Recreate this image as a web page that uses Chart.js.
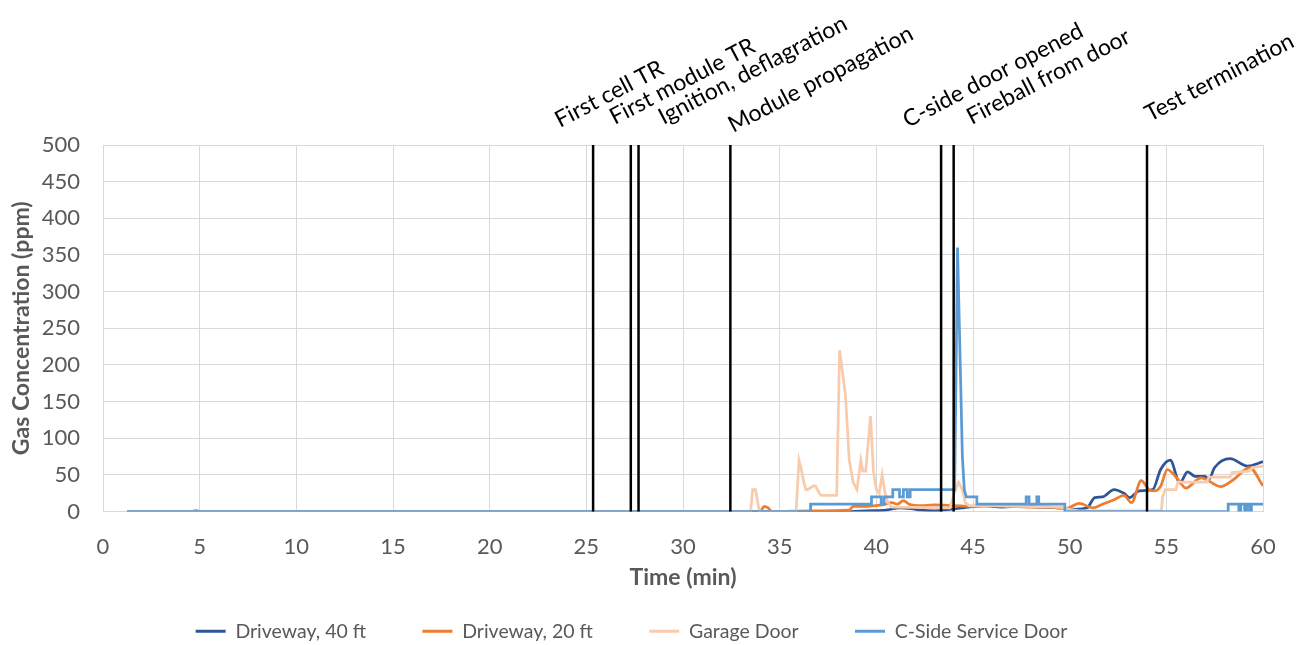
<!DOCTYPE html>
<html>
<head>
<meta charset="utf-8">
<script src="https://cdn.jsdelivr.net/npm/chart.js@4.4.1/dist/chart.umd.min.js"></script>
<style>
  html, body { margin: 0; padding: 0; background: #fff; }
</style>
</head>
<body>
<canvas id="myChart" width="1315" height="645"></canvas>
<script>
// event markers (min)
let eventTimes = [25.35, 27.3, 27.7, 32.45, 43.35, 44.0, 54.0]
let eventNames = ["First cell TR", "First module TR", "Ignition, deflagration", "Module propagation",
                  "C-side door opened", "Fireball from door", "Test termination"]

// Driveway, 40 ft
let drive40Time = [1.25, 4.6, 4.8, 5.0, 38.5, 39.5, 40.5, 41.2, 41.8, 42.3, 43.0, 43.8, 44.5, 45.5, 46.5, 47.5,
                   48.5, 49.5, 50.3, 50.9, 51.3, 51.7, 52.3, 52.8, 53.1, 53.6, 54.3, 54.7, 55.2, 55.7, 56.1,
                   56.5, 57.0, 57.2, 57.5, 58.3, 59.2, 60]
let drive40Ppm = [0, 0, 1, 0, 0, 1, 2, 5, 4, 2, 1, 3, 5, 8, 6, 7,
                  6, 5, 3, 5, 19, 20, 30, 25, 19, 28, 30, 57, 70, 39, 54,
                  48, 48, 44, 60, 72, 62, 68]

// Driveway, 20 ft
let drive20Time = [1.25, 34.0, 34.2, 34.4, 34.6, 36.6, 38.6, 38.8, 39.5, 40.3, 40.8, 41.1, 41.4, 41.7, 42.3,
                   43.0, 44.0, 45.0, 46.0, 47.0, 48.0, 49.0, 49.8, 50.5, 51.2, 51.7, 52.3, 52.8, 53.2, 53.7,
                   54.1, 54.4, 54.7, 55.05, 55.6, 56.0, 56.8, 57.8, 58.5, 59.3, 60]
let drive20Ppm = [0, 0, 7, 5, 0, 1, 2, 7, 7, 9, 12, 10, 15, 10, 8,
                  9, 8, 7, 8, 7, 6, 6, 4, 11, 5, 10, 16, 22, 12, 42,
                  30, 28, 34, 57, 44, 32, 46, 34, 44, 60, 35]

// Garage Door
let garageTime = [1.25, 33.5, 33.6, 33.75, 33.85, 33.95, 35.85, 36.0, 36.1, 36.25, 36.35, 36.45, 36.75, 36.85,
                  37.05, 37.15, 37.95, 38.1, 38.4, 38.6, 38.8, 39.0, 39.2, 39.3, 39.45, 39.7, 39.85, 40.0,
                  40.15, 40.3, 40.45, 40.6, 40.8, 43.8, 44.1, 44.25, 44.45, 44.6, 44.8, 45.5, 49.5, 50.0,
                  50.5, 54.75, 54.8, 54.95, 55.5, 55.6, 57.1, 57.2, 58.3, 58.4, 59.3, 59.45, 60]
let garagePpm = [0, 0, 30, 30, 15, 0, 0, 70, 60, 40, 30, 30, 35, 35,
                 25, 22, 22, 220, 160, 70, 40, 30, 70, 55, 55, 130, 55, 30,
                 25, 50, 25, 12, 6, 5, 30, 40, 30, 12, 8, 8, 6, 3,
                 1, 1, 20, 30, 30, 40, 40, 47, 47, 53, 55, 60, 62]

// C-Side Service Door
let serviceTime = [1.25, 36.6, 36.6, 39.75, 39.75, 40.25, 40.25, 40.4, 40.4, 40.85, 40.85, 41.2, 41.2, 41.4,
                   41.4, 41.6, 41.6, 41.75, 41.75, 44.05, 44.2, 44.35, 44.45, 44.55, 44.65, 45.2, 45.2, 47.75,
                   47.75, 47.9, 47.9, 48.3, 48.3, 48.4, 48.4, 49.75, 49.75, 58.2, 58.2, 58.75, 58.75, 58.85,
                   58.85, 59.05, 59.05, 59.15, 59.15, 59.3, 59.3, 59.4, 59.4, 60]
let servicePpm = [0, 0, 10, 10, 20, 20, 10, 10, 20, 20, 30, 30, 20, 20,
                  30, 30, 20, 20, 30, 30, 360, 190, 75, 30, 20, 20, 10, 10,
                  20, 20, 10, 10, 20, 20, 10, 10, 0, 0, 10, 10, 0, 0,
                  10, 10, 0, 0, 10, 10, 0, 0, 10, 10]

let xTicks = [0, 5, 10, 15, 20, 25, 30, 35, 40, 45, 50, 55, 60]

function pts(xs, ys) {
    return xs.map((x, i) => ({x: x, y: ys[i]}))
}

function series(label, xs, ys, color, order, smooth) {
    let ds = {
        label: label,
        data: pts(xs, ys),
        borderColor: color,
        backgroundColor: color,
        pointBorderColor: color,
        pointBackgroundColor: color,
        pointBorderWidth: 3,
        borderWidth: 2.75,
        order: order
    }
    if (smooth) ds.cubicInterpolationMode = "monotone"
    return ds
}

let grey = "#595959"
let font = "Lato"

const eventMarks = {
    id: "eventMarks",
    afterDatasetsDraw(chart, args, opts) {
        const {ctx, chartArea, scales} = chart
        ctx.save()
        ctx.strokeStyle = "#000000"
        ctx.lineWidth = 2.5
        eventTimes.forEach((t, i) => {
            const x = scales.x.getPixelForValue(t)
            ctx.beginPath()
            ctx.moveTo(x, chartArea.top)
            ctx.lineTo(x, chartArea.bottom)
            ctx.stroke()
            ctx.save()
            ctx.translate(x + opts.nudgeX[i], chartArea.top + opts.nudgeY[i])
            ctx.rotate(-27.5 * Math.PI / 180)
            ctx.fillStyle = "#000000"
            ctx.font = "23px " + font
            ctx.textAlign = "left"
            ctx.textBaseline = "alphabetic"
            ctx.fillText(eventNames[i], 0, 0)
            ctx.restore()
        })
        ctx.restore()
    }
}

let ctx = document.getElementById("myChart").getContext("2d")

let myChart = new Chart(ctx, {
    type: "line",
    data: {
        datasets: [
            series("Driveway, 40 ft", drive40Time, drive40Ppm, "#2F5597", 3, true),
            series("Driveway, 20 ft", drive20Time, drive20Ppm, "#ED7D31", 2, true),
            series("Garage Door", garageTime, garagePpm, "#F8CBAD", 1, false),
            series("C-Side Service Door", serviceTime, servicePpm, "#5B9BD5", 0, false),
        ]
    },
    options: {
        responsive: false,
        animation: false,
        devicePixelRatio: 1,
        elements: {point: {radius: 0}},
        layout: {padding: {top: 145, right: 52, left: 0, bottom: -6}},
        scales: {
            x: {
                type: "linear",
                min: 0, max: 60,
                afterBuildTicks: (scale) => { scale.ticks = xTicks.map(v => ({value: v})) },
                afterFit: (scale) => { scale.height = 100 },
                grid: {color: "#D9D9D9", drawTicks: false},
                border: {color: "#D9D9D9"},
                ticks: {color: grey, padding: 22, font: {family: font, size: 22}},
                title: {display: true, text: "Time (min)", color: grey,
                        font: {family: font, size: 23, weight: "bold"}, padding: {top: 0, bottom: 20}}
            },
            y: {
                min: 0, max: 500,
                afterFit: (scale) => { scale.width = 103 },
                grid: {color: "#D9D9D9", drawTicks: false},
                border: {color: "#D9D9D9"},
                ticks: {stepSize: 50, color: grey, padding: 23, font: {family: font, size: 22}},
                title: {display: true, text: "Gas Concentration (ppm)", color: grey,
                        font: {family: font, size: 23, weight: "bold"}, padding: {top: 8, bottom: 0}}
            }
        },
        plugins: {
            legend: {
                position: "bottom",
                labels: {
                    color: grey,
                    font: {family: font, size: 19.5},
                    usePointStyle: true,
                    pointStyle: "line",
                    pointStyleWidth: 30,
                    padding: 10,
                    generateLabels: (chart) => {
                        let items = Chart.defaults.plugins.legend.labels.generateLabels(chart)
                        items.forEach(it => { if (it.datasetIndex < 3) it.text += "\u2003\u2003\u2003\u2009" })
                        return items
                    },
                    sort: (a, b) => a.datasetIndex - b.datasetIndex
                }
            },
            tooltip: {enabled: false},
            eventMarks: {
                nudgeX: [-33, -16, 25, 3, -33, 18, 3],
                nudgeY: [-17, -20, -20, -12, -17, -20, -23]
            }
        }
    },
    plugins: [eventMarks]
})
</script>
</body>
</html>
